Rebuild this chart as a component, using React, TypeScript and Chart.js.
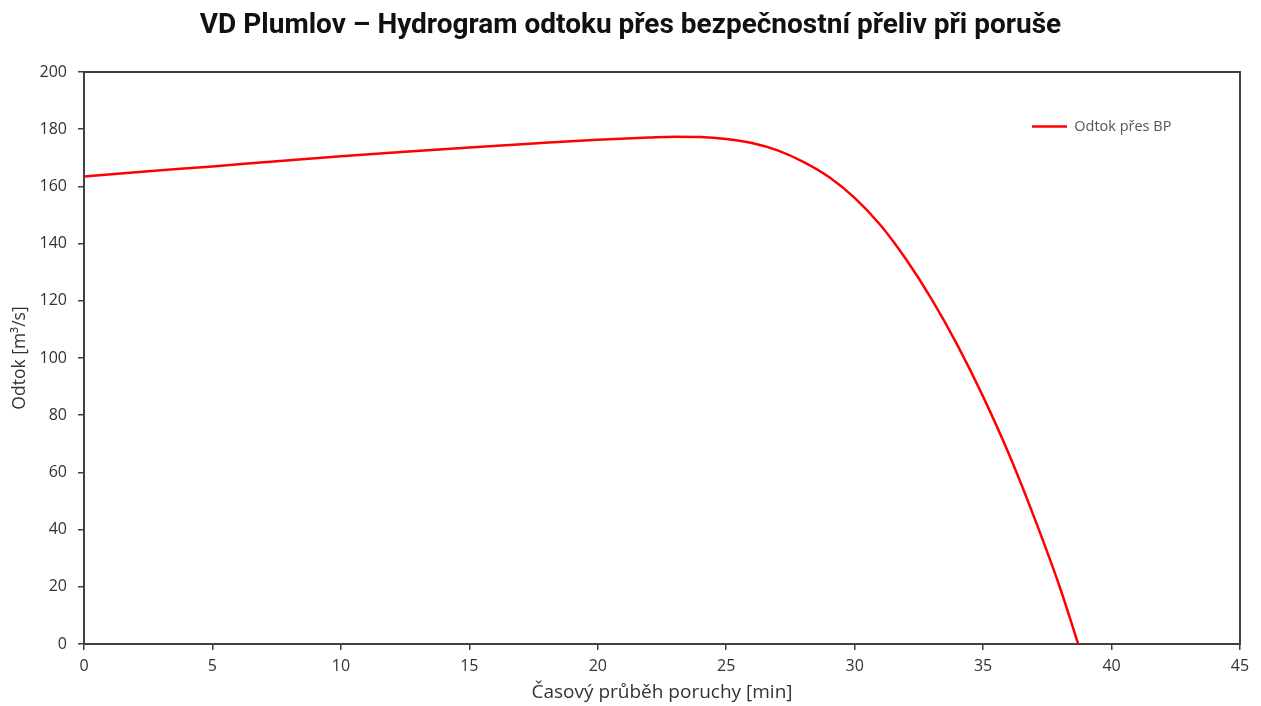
import React, { useEffect, useRef } from "react";
import { Chart, registerables } from "chart.js";

Chart.register(...registerables);

const TITLE = "VD Plumlov – Hydrogram odtoku přes bezpečnostní přeliv při poruše";
const X_TITLE = "Časový průběh poruchy [min]";
const Y_TITLE = "Odtok [m³/s]";
const SERIES_LABEL = "Odtok přes BP";

const timeMin = [0, 2.5, 5, 7.5, 10, 12.5, 15, 17.5, 20, 22, 23, 24, 25, 26, 27, 28, 29, 30, 31, 32, 33, 34, 35, 36, 37, 38, 38.7];
const outflow = [163.5, 165.3, 167, 168.8, 170.5, 172.1, 173.6, 175, 176.3, 177.1, 177.4, 177.3, 176.6, 175.2, 172.6, 168.6, 163.3, 156.0, 146.5, 134.5, 120.5, 104.5, 86.5, 66.5, 44, 19.5, 0];

const X_MIN = 0, X_MAX = 45, X_STEP = 5;
const Y_MIN = 0, Y_MAX = 200, Y_STEP = 20;

const AXIS_COLOR = "#404040";
const TEXT_COLOR = "#333333";

export default function App() {
  const ref = useRef<HTMLCanvasElement | null>(null);

  useEffect(() => {
    document.body.style.margin = "0";
    const canvas = ref.current;
    if (!canvas) return;

    const legendMover = {
      id: "legendMover",
      afterLayout(chart: any) {
        const l = chart.legend;
        if (!l) return;
        const pad = 10;
        const w = l.width, h = l.height;
        l.left = 1032 - pad;
        l.top = 128 - 8.7 - pad;
        l.right = l.left + w;
        l.bottom = l.top + h;
      },
    };

    const chart = new Chart(canvas, {
      type: "scatter",
      data: {
        datasets: [
          {
            label: SERIES_LABEL,
            data: timeMin.map((t, i) => ({ x: t, y: outflow[i] })),
            showLine: true,
            borderColor: "#ff0000",
            backgroundColor: "#ff0000",
            borderWidth: 2.5,
            pointRadius: 0,
            pointHoverRadius: 0,
            tension: 0.4,
            cubicInterpolationMode: "monotone",
            clip: false as any,
          },
        ],
      },
      options: {
        responsive: false,
        animation: false,
        layout: { padding: { left: 0, right: 0, top: 0, bottom: 0 } },
        plugins: {
          title: {
            display: true,
            text: TITLE,
            color: "#111111",
            font: { family: "Roboto", size: 28, weight: "bold" },
            padding: { top: 9, bottom: 29.4 },
          },
          legend: {
            position: "chartArea" as any,
            align: "start",
            labels: {
              usePointStyle: true,
              pointStyle: "line",
              pointStyleWidth: 35,
              color: "#555555",
              padding: 10,
              font: { family: "Open Sans", size: 14.5 },
            },
          },
          tooltip: { enabled: false },
        },
        scales: {
          x: {
            type: "linear",
            position: "bottom",
            min: X_MIN,
            max: X_MAX,
            ticks: { stepSize: X_STEP, color: TEXT_COLOR, padding: 7, font: { family: "Open Sans", size: 16 } },
            grid: { drawOnChartArea: false, drawTicks: true, tickLength: 6, color: AXIS_COLOR, lineWidth: 1.5 },
            border: { display: true, color: AXIS_COLOR, width: 2 },
            title: { display: true, text: X_TITLE, color: TEXT_COLOR, font: { family: "Open Sans", size: 19 }, padding: { top: 0, bottom: 2 } },
            afterFit(scale: any) { scale.height = 62; },
          },
          y: {
            type: "linear",
            position: "left",
            min: Y_MIN,
            max: Y_MAX,
            ticks: { stepSize: Y_STEP, color: TEXT_COLOR, padding: 11, font: { family: "Open Sans", size: 16 } },
            grid: { drawOnChartArea: false, drawTicks: true, tickLength: 6, color: AXIS_COLOR, lineWidth: 1.5 },
            border: { display: true, color: AXIS_COLOR, width: 2 },
            title: { display: true, text: Y_TITLE, color: TEXT_COLOR, font: { family: "Open Sans", size: 17.5 }, padding: { top: 10, bottom: 0 } },
            afterFit(scale: any) { scale.width = 84; },
          },
          xTop: {
            type: "linear",
            position: "top",
            min: X_MIN,
            max: X_MAX,
            ticks: { display: false },
            grid: { display: false },
            border: { display: true, color: AXIS_COLOR, width: 2 },
            afterFit(scale: any) { scale.height = 0; },
          },
          yRight: {
            type: "linear",
            position: "right",
            min: Y_MIN,
            max: Y_MAX,
            ticks: { display: false },
            grid: { display: false },
            border: { display: true, color: AXIS_COLOR, width: 2 },
            afterFit(scale: any) { scale.width = 21; },
          },
        },
      } as any,
      plugins: [legendMover],
    });

    return () => chart.destroy();
  }, []);

  return (
    <div style={{ width: 1261, height: 706 }}>
      <canvas ref={ref} width={1261} height={706} style={{ display: "block" }} />
    </div>
  );
}
